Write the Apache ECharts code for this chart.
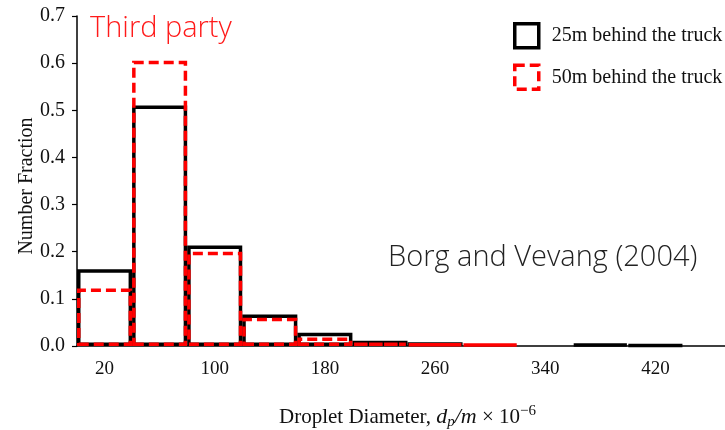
<!DOCTYPE html>
<html>
<head>
<meta charset="utf-8">
<script src="https://cdn.jsdelivr.net/npm/echarts@6/dist/echarts.min.js"></script>
<style>
html, body { margin: 0; padding: 0; background: #fff; }
#chart { width: 725px; height: 430px; }
</style>
</head>
<body>
<div id="chart"></div>
<script>
// bin centres (um), 40 um wide bins
var binLabels = ['20', '60', '100', '140', '180', '220', '260', '300', '340', '380', '420', '460'];
// number fraction, 25 m behind the truck
var behind25 = [0.163, 0.510, 0.213, 0.067, 0.028, 0.011, 0.008, null, null, 0.004, 0.002, null];
// number fraction, 50 m behind the truck
var behind50 = [0.122, 0.605, 0.200, 0.060, 0.018, 0.007, 0.005, 0.004, null, null, null, null];
var yTicks = [0, 0.1, 0.2, 0.3, 0.4, 0.5, 0.6, 0.7];

var serif = 'Liberation Serif';
var dashRed = [10, 5];

var dom = document.getElementById('chart');
var myChart = echarts.init(dom);
var option = {
    backgroundColor: '#fff',
    animation: false,
    grid: { left: 77, top: 16, bottom: 84, right: -13, outerBoundsMode: 'none' },
    legend: {
        orient: 'vertical',
        left: 508,
        top: 17,
        itemWidth: 24,
        itemHeight: 24,
        itemGap: 14,
        icon: 'rect',
        textStyle: { fontFamily: serif, fontSize: 20, color: '#111', padding: [0, 0, 0, 8] },
        data: [
            { name: '25m behind the truck', itemStyle: { color: '#fff', borderColor: '#000', borderWidth: 3.5 } },
            { name: '50m behind the truck', itemStyle: { color: '#fff', borderColor: '#ff0000', borderWidth: 3.5, borderType: dashRed } }
        ]
    },
    xAxis: {
        type: 'category',
        data: binLabels,
        name: 'Droplet Diameter, {i|d}{s|p}{i|/m} × 10{sup|−6}',
        nameLocation: 'middle',
        nameGap: 58,
        nameMoveOverlap: false,
        nameTextStyle: {
            fontFamily: serif, fontSize: 21, color: '#111', lineHeight: 26,
            rich: {
                i: { fontFamily: serif, fontStyle: 'italic', fontSize: 22, color: '#111', lineHeight: 26 },
                s: { fontFamily: serif, fontStyle: 'italic', fontSize: 15, color: '#111', lineHeight: 13, verticalAlign: 'bottom' },
                sup: { fontFamily: serif, fontSize: 15, color: '#111', lineHeight: 13, verticalAlign: 'top' }
            }
        },
        axisLine: { lineStyle: { color: '#000', width: 1.5 } },
        axisTick: { interval: 0, length: 5, lineStyle: { color: '#000', width: 1.2 } },
        axisLabel: { interval: 1, margin: 14, fontFamily: serif, fontSize: 19, color: '#111' },
        splitLine: { show: false }
    },
    yAxis: {
        type: 'value',
        min: 0,
        max: yTicks[yTicks.length - 1],
        interval: 0.1,
        name: 'Number Fraction',
        nameLocation: 'middle',
        nameGap: 40,
        nameMoveOverlap: false,
        nameTextStyle: { fontFamily: serif, fontSize: 20, color: '#111', padding: [0, 10, 0, 0] },
        axisLine: { show: true, lineStyle: { color: '#000', width: 1.5 } },
        axisTick: { show: true, length: 5, lineStyle: { color: '#000', width: 1.2 } },
        axisLabel: { margin: 12, fontFamily: serif, fontSize: 20, color: '#111',
            formatter: function (v) { return v.toFixed(1); } },
        splitLine: { show: false }
    },
    series: [
        {
            name: '25m behind the truck',
            type: 'bar',
            data: behind25,
            barWidth: '100%',
            barGap: '-100%',
            itemStyle: { color: 'rgba(255,255,255,0)', borderColor: '#000', borderWidth: 3.5 }
        },
        {
            name: '50m behind the truck',
            type: 'bar',
            data: behind50,
            barWidth: '100%',
            barGap: '-100%',
            itemStyle: { color: 'rgba(255,255,255,0)', borderColor: '#ff0000', borderWidth: 3.5, borderType: dashRed }
        }
    ],
    graphic: [
        {
            type: 'text', left: 90, top: 14,
            style: { text: 'Third party', fill: '#ff1a1a', font: '300 29px "Open Sans"' }
        },
        {
            type: 'text', left: 388, top: 243,
            style: { text: 'Borg and Vevang (2004)', fill: '#222', font: '300 29px "Open Sans"' }
        }
    ]
};

if (option && typeof option === 'object') {
    myChart.setOption(option, true);
}
</script>
</body>
</html>
